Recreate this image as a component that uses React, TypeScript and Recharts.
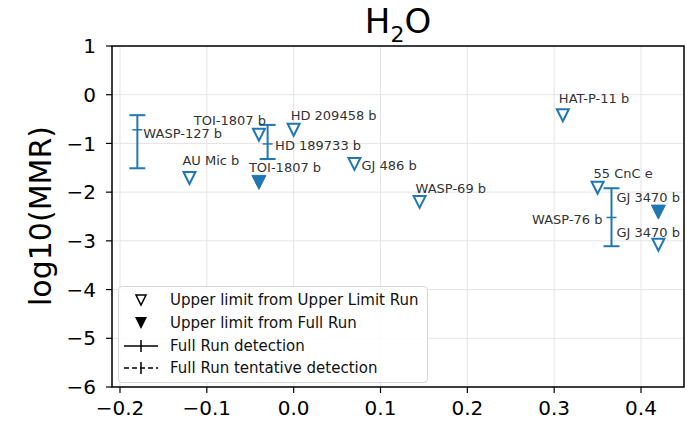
import React from "react";
import {
  ScatterChart,
  Scatter,
  XAxis,
  YAxis,
  CartesianGrid,
  ErrorBar,
  Legend,
} from "recharts";

// upper limits from the Upper Limit Run (open triangles)
const UL_NAMES = [
  "AU Mic b",
  "TOI-1807 b",
  "HD 209458 b",
  "GJ 486 b",
  "WASP-69 b",
  "HAT-P-11 b",
  "55 CnC e",
  "GJ 3470 b",
];
const UL_X = [-0.12, -0.04, 0.0, 0.07, 0.145, 0.31, 0.35, 0.42];
const UL_Y = [-1.71, -0.82, -0.72, -1.42, -2.2, -0.42, -1.91, -3.08];

// upper limits from the Full Run (filled triangles)
const FULL_NAMES = ["TOI-1807 b", "GJ 3470 b"];
const FULL_X = [-0.04, 0.42];
const FULL_Y = [-1.8, -2.41];

// Full Run detections
const DET_NAMES = ["WASP-127 b", "HD 189733 b", "WASP-76 b"];
const DET_X = [-0.18, -0.03, 0.366];
const DET_Y = [-0.72, -1.01, -2.52];
const DET_LO = [0.79, 0.31, 0.59];
const DET_HI = [0.3, 0.39, 0.6];

const X_TICKS = [-0.2, -0.1, 0.0, 0.1, 0.2, 0.3, 0.4];
const Y_TICKS = [-6, -5, -4, -3, -2, -1, 0, 1];

const LEGEND_LABELS = [
  "Upper limit from Upper Limit Run",
  "Upper limit from Full Run",
  "Full Run detection",
  "Full Run tentative detection",
];

const BLUE = "#1f77b4";
const FONT = "DejaVu Sans";

// where each annotation sits relative to its marker
const LABEL_POS: Record<string, { dx: number; dy: number; anchor?: string }> = {
  "ul:AU Mic b": { dx: -7, dy: -13 },
  "ul:TOI-1807 b": { dx: 7, dy: -10, anchor: "end" },
  "ul:HD 209458 b": { dx: -3, dy: -10 },
  "ul:GJ 486 b": { dx: 7, dy: 6 },
  "ul:WASP-69 b": { dx: -4, dy: -9 },
  "ul:HAT-P-11 b": { dx: -4, dy: -12 },
  "ul:55 CnC e": { dx: -4, dy: -10 },
  "ul:GJ 3470 b": { dx: -42, dy: -8 },
  "full:TOI-1807 b": { dx: -10, dy: -10 },
  "full:GJ 3470 b": { dx: -42, dy: -10 },
  "det:WASP-127 b": { dx: 6, dy: 8 },
  "det:HD 189733 b": { dx: 7.5, dy: 6 },
  "det:WASP-76 b": { dx: -9, dy: 7, anchor: "end" },
};

const ulData = UL_NAMES.map((name, i) => ({ name, x: UL_X[i], y: UL_Y[i] }));
const fullData = FULL_NAMES.map((name, i) => ({ name, x: FULL_X[i], y: FULL_Y[i] }));
const detData = DET_NAMES.map((name, i) => ({
  name,
  x: DET_X[i],
  y: DET_Y[i],
  err: [DET_LO[i], DET_HI[i]],
}));

const minus = (s: string) => s.replace("-", "\u2212");

const triPath = (cx: number, cy: number, r: number) =>
  `M${cx - r},${cy - r} L${cx + r},${cy - r} L${cx},${cy + r} Z`;

function Label({ kind, name, cx, cy }: any) {
  const p = LABEL_POS[`${kind}:${name}`] || { dx: 6, dy: -8 };
  return (
    <text
      x={cx + p.dx}
      y={cy + p.dy}
      textAnchor={p.anchor || "start"}
      fontSize={13}
      fontFamily={FONT}
      fill="#333"
    >
      {name}
    </text>
  );
}

const openShape = (props: any) => {
  const { cx, cy, payload } = props;
  return (
    <g>
      <path d={triPath(cx, cy, 6)} fill="#fff" stroke={BLUE} strokeWidth={2} strokeLinejoin="miter" />
      <Label kind="ul" name={payload.name} cx={cx} cy={cy} />
    </g>
  );
};

const filledShape = (props: any) => {
  const { cx, cy, payload } = props;
  return (
    <g>
      <path d={triPath(cx, cy, 7)} fill={BLUE} stroke={BLUE} strokeWidth={1} />
      <Label kind="full" name={payload.name} cx={cx} cy={cy} />
    </g>
  );
};

const detShape = (props: any) => {
  const { cx, cy, payload } = props;
  return (
    <g>
      <line x1={cx - 5} x2={cx + 5} y1={cy} y2={cy} stroke={BLUE} strokeWidth={1.5} />
      <Label kind="det" name={payload.name} cx={cx} cy={cy} />
    </g>
  );
};

function LegendIcon({ i }: { i: number }) {
  if (i === 0) return <path d={triPath(22, 11, 5)} fill="none" stroke="#000" strokeWidth={1.5} />;
  if (i === 1) return <path d={triPath(22, 11, 6)} fill="#000" />;
  return (
    <g stroke="#000" strokeWidth={1.5}>
      <line x1={5} x2={39} y1={11} y2={11} strokeDasharray={i === 3 ? "5,3" : undefined} />
      <line x1={22} x2={22} y1={5} y2={17} />
    </g>
  );
}

const renderLegend = () => (
  <div
    style={{
      border: "1px solid #d6d6d6",
      borderRadius: 4,
      background: "rgba(255,255,255,0.85)",
      padding: "2px 8px 2px 0",
      fontFamily: FONT,
      fontSize: 15,
      color: "#111",
    }}
  >
    {LEGEND_LABELS.map((label, i) => (
      <div key={label} style={{ display: "flex", alignItems: "center", height: 22.7 }}>
        <svg width={51} height={22} style={{ flex: "none" }}>
          <LegendIcon i={i} />
        </svg>
        <span style={{ whiteSpace: "nowrap" }}>{label}</span>
      </div>
    ))}
  </div>
);

export default function App() {
  return (
    <div
      style={{
        position: "absolute",
        left: 0,
        top: 0,
        width: 687,
        height: 422,
        background: "#fff",
        fontFamily: FONT,
      }}
    >
      <ScatterChart width={687} height={422} margin={{ top: 46, right: 3, left: 0, bottom: 0 }}>
        <CartesianGrid stroke="#e4e4e4" strokeWidth={1} />
        <XAxis
          dataKey="x"
          type="number"
          domain={[-0.2092, 0.4495]}
          ticks={X_TICKS}
          allowDataOverflow
          height={35}
          axisLine={false}
          tickSize={6}
          tickMargin={8}
          tickLine={{ stroke: "#000", strokeWidth: 1.2 }}
          tick={{ fontSize: 20, fill: "#000", fontFamily: FONT }}
          tickFormatter={(v: number) => minus(v.toFixed(1))}
        />
        <YAxis
          dataKey="y"
          type="number"
          domain={[-6, 1]}
          ticks={Y_TICKS}
          allowDataOverflow
          width={112}
          axisLine={false}
          tickSize={6}
          tickMargin={10}
          tickLine={{ stroke: "#000", strokeWidth: 1.2 }}
          tick={{ fontSize: 20, fill: "#000", fontFamily: FONT }}
          tickFormatter={(v: number) => minus(String(v))}
          label={{
            content: () => (
              <text
                x={40}
                y={216}
                transform="rotate(-90 40 216)"
                textAnchor="middle"
                dominantBaseline="central"
                fontSize={30}
                fontFamily={FONT}
                fill="#000"
              >
                log10(MMR)
              </text>
            ),
          }}
        />
        <Legend
          layout="vertical"
          align="center"
          verticalAlign="middle"
          content={renderLegend}
          wrapperStyle={{ position: "absolute", left: 118, top: 286, width: "auto", height: "auto" }}
        />
        <Scatter data={detData} shape={detShape} isAnimationActive={false}>
          <ErrorBar
            dataKey="err"
            direction="y"
            width={8}
            stroke={BLUE}
            strokeWidth={2}
            isAnimationActive={false}
          />
        </Scatter>
        <Scatter data={ulData} shape={openShape} isAnimationActive={false} />
        <Scatter data={fullData} shape={filledShape} isAnimationActive={false} />
      </ScatterChart>
      <svg
        width={687}
        height={422}
        style={{ position: "absolute", left: 0, top: 0, pointerEvents: "none" }}
      >
        <rect x={112} y={46} width={572} height={341} fill="none" stroke="#000" strokeWidth={1.5} />
        <text x={398} y={33} textAnchor="middle" fontSize={34} fontFamily={FONT} fill="#000">
          H
          <tspan fontSize={22} dy={9}>
            2
          </tspan>
          <tspan dy={-9}>O</tspan>
        </text>
      </svg>
    </div>
  );
}
